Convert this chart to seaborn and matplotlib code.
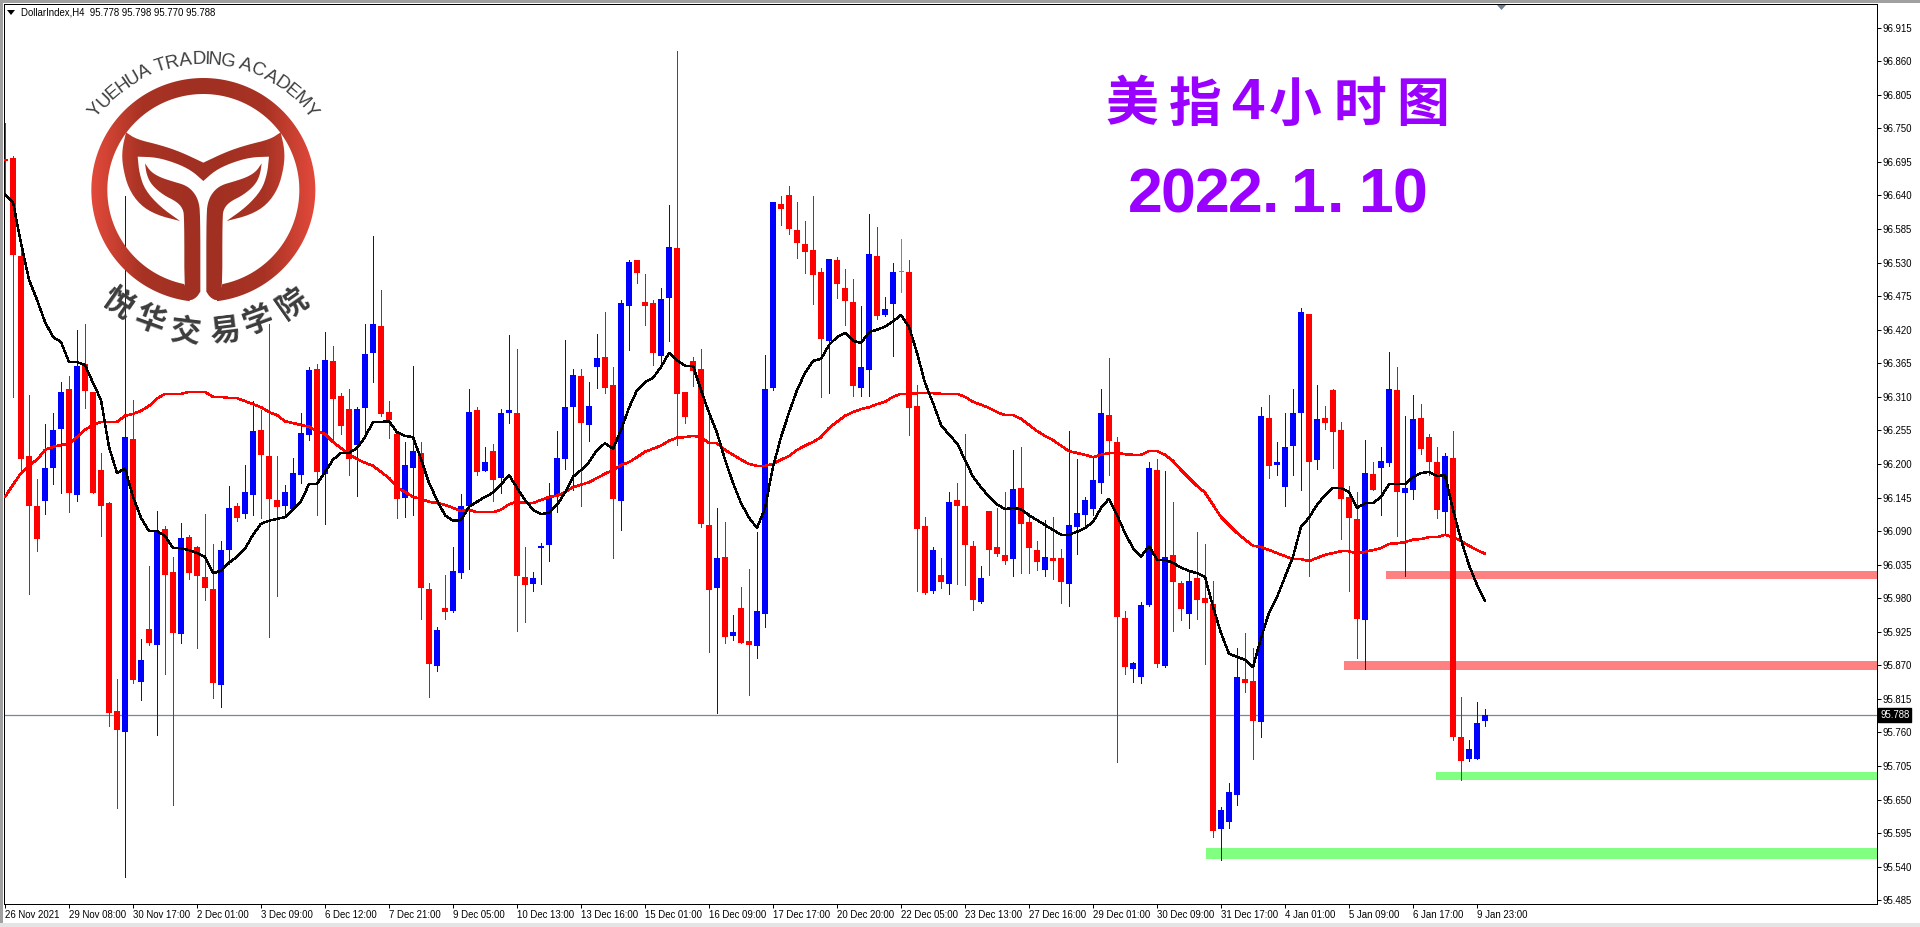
import numpy as np
import pandas as pd
import matplotlib
matplotlib.use("Agg")
import matplotlib.pyplot as plt
import seaborn as sns
from matplotlib.colors import LinearSegmentedColormap
from matplotlib.font_manager import FontProperties
from matplotlib.patches import Polygon, Rectangle
from matplotlib.path import Path
from matplotlib.textpath import TextPath

# DollarIndex H4 bars
highs = [
    96.759, 96.705, 96.551, 96.313, 96.175, 96.266, 96.284, 96.334, 96.344, 96.420,
    96.429, 96.318, 96.218, 96.138, 95.848, 96.639, 96.305, 95.913, 96.033, 96.123,
    96.098, 96.048, 96.103, 96.084, 96.066, 96.118, 96.069, 96.074, 96.164, 96.136,
    96.198, 96.303, 96.289, 96.429, 96.213, 96.166, 96.210, 96.284, 96.359, 96.364,
    96.416, 96.393, 96.316, 96.323, 96.293, 96.429, 96.574, 96.485, 96.303, 96.249,
    96.236, 96.361, 96.236, 96.005, 95.933, 96.018, 96.064, 96.151, 96.323, 96.293,
    96.228, 96.233, 96.290, 96.411, 96.388, 96.064, 96.023, 96.071, 96.169, 96.254,
    96.403, 96.356, 96.356, 96.334, 96.413, 96.449, 96.359, 96.469, 96.534, 96.534,
    96.511, 96.469, 96.488, 96.624, 96.877, 96.318, 96.375, 96.388, 96.289, 96.128,
    96.105, 95.953, 95.998, 96.028, 96.089, 96.379, 96.629, 96.639, 96.656, 96.629,
    96.598, 96.639, 96.521, 96.536, 96.539, 96.520, 96.503, 96.459, 96.610, 96.588,
    96.474, 96.529, 96.569, 96.534, 96.330, 96.113, 96.064, 96.046, 96.154, 96.169,
    96.249, 96.074, 96.033, 96.123, 96.128, 96.154, 96.223, 96.228, 96.120, 96.074,
    96.108, 96.113, 96.061, 96.254, 96.208, 96.146, 96.211, 96.323, 96.374, 96.244,
    95.959, 95.876, 95.974, 96.203, 96.208, 96.188, 96.138, 96.008, 96.026, 96.089,
    96.069, 96.008, 95.638, 95.677, 95.898, 95.923, 95.898, 96.293, 96.313, 96.236,
    96.284, 96.323, 96.456, 96.446, 96.330, 96.295, 96.323, 96.269, 96.164, 96.154,
    96.239, 96.203, 96.228, 96.384, 96.359, 96.279, 96.313, 96.298, 96.249, 96.228,
    96.218, 96.254, 95.818, 95.748, 95.810, 95.798,
]
body_top = [
    96.700, 96.701, 96.541, 96.213, 96.131, 96.193, 96.256, 96.318, 96.323, 96.361,
    96.364, 96.318, 96.190, 96.136, 95.795, 96.244, 96.241, 95.879, 95.930, 96.090,
    96.093, 96.023, 96.079, 96.080, 96.064, 96.015, 95.995, 96.059, 96.128, 96.131,
    96.154, 96.254, 96.256, 96.213, 96.141, 96.154, 96.185, 96.251, 96.354, 96.356,
    96.370, 96.369, 96.311, 96.290, 96.290, 96.380, 96.429, 96.426, 96.285, 96.249,
    96.198, 96.221, 96.218, 95.995, 95.928, 95.964, 96.025, 96.131, 96.285, 96.289,
    96.203, 96.221, 96.284, 96.289, 96.284, 96.015, 96.013, 96.066, 96.148, 96.210,
    96.293, 96.346, 96.344, 96.295, 96.374, 96.375, 96.330, 96.464, 96.531, 96.534,
    96.465, 96.464, 96.470, 96.556, 96.554, 96.318, 96.369, 96.356, 96.100, 96.046,
    96.048, 95.925, 95.964, 95.910, 95.959, 96.323, 96.629, 96.626, 96.641, 96.583,
    96.561, 96.551, 96.515, 96.536, 96.534, 96.488, 96.465, 96.359, 96.544, 96.541,
    96.454, 96.515, 96.516, 96.515, 96.295, 96.098, 96.059, 96.018, 96.138, 96.141,
    96.131, 96.066, 96.013, 96.123, 96.064, 96.051, 96.159, 96.161, 96.105, 96.059,
    96.048, 96.046, 96.046, 96.100, 96.120, 96.141, 96.174, 96.284, 96.280, 96.236,
    95.948, 95.874, 95.969, 96.193, 96.190, 96.048, 96.051, 96.005, 96.008, 96.013,
    95.980, 95.971, 95.633, 95.662, 95.851, 95.848, 95.844, 96.279, 96.275, 96.203,
    96.228, 96.284, 96.449, 96.446, 96.274, 96.275, 96.321, 96.256, 96.146, 96.110,
    96.185, 96.184, 96.205, 96.323, 96.321, 96.161, 96.274, 96.275, 96.244, 96.203,
    96.213, 96.210, 95.753, 95.733, 95.776, 95.788,
]
body_bottom = [
    96.697, 96.543, 96.208, 96.131, 96.077, 96.139, 96.193, 96.257, 96.153, 96.149,
    96.320, 96.153, 96.131, 95.792, 95.764, 95.761, 95.846, 95.843, 95.907, 95.903,
    96.018, 95.923, 95.921, 96.021, 96.016, 95.997, 95.841, 95.838, 96.059, 96.112,
    96.118, 96.149, 96.215, 96.143, 96.130, 96.131, 96.126, 96.182, 96.248, 96.187,
    96.184, 96.307, 96.262, 96.208, 96.231, 96.292, 96.382, 96.282, 96.272, 96.143,
    96.144, 96.193, 95.997, 95.872, 95.869, 95.957, 95.959, 96.021, 96.131, 96.187,
    96.188, 96.174, 96.177, 96.284, 96.016, 96.002, 96.003, 96.062, 96.067, 96.148,
    96.208, 96.293, 96.267, 96.264, 96.359, 96.325, 96.143, 96.139, 96.459, 96.513,
    96.459, 96.382, 96.377, 96.472, 96.315, 96.277, 96.352, 96.102, 95.994, 95.997,
    95.916, 95.918, 95.907, 95.903, 95.902, 95.954, 96.325, 96.618, 96.585, 96.562,
    96.547, 96.510, 96.405, 96.402, 96.495, 96.467, 96.328, 96.325, 96.354, 96.443,
    96.444, 96.462, 96.516, 96.292, 96.093, 95.989, 95.992, 96.007, 96.003, 96.131,
    96.067, 95.977, 95.974, 96.059, 96.053, 96.041, 96.044, 96.102, 96.062, 96.039,
    96.026, 96.041, 96.007, 96.003, 96.097, 96.116, 96.126, 96.169, 96.238, 95.949,
    95.867, 95.864, 95.851, 95.969, 95.872, 95.869, 96.007, 95.962, 95.954, 95.977,
    95.972, 95.599, 95.602, 95.613, 95.658, 95.841, 95.779, 95.777, 96.197, 96.198,
    96.162, 96.230, 96.284, 96.203, 96.207, 96.267, 96.252, 96.143, 96.112, 95.946,
    95.944, 96.157, 96.193, 96.202, 96.154, 96.153, 96.157, 96.225, 96.203, 96.125,
    96.121, 95.753, 95.713, 95.717, 95.717, 95.778,
]
lows = [
    96.646, 96.310, 96.185, 95.987, 96.057, 96.118, 96.167, 96.153, 96.121, 96.139,
    96.292, 96.153, 96.082, 95.771, 95.636, 95.523, 95.841, 95.813, 95.903, 95.756,
    95.856, 95.641, 95.907, 96.012, 95.898, 95.977, 95.817, 95.802, 96.036, 96.107,
    96.112, 96.116, 96.112, 95.916, 95.984, 96.115, 96.125, 96.169, 96.239, 96.116,
    96.102, 96.239, 96.249, 96.182, 96.148, 96.249, 96.334, 96.279, 96.243, 96.112,
    96.113, 96.116, 95.946, 95.818, 95.861, 95.946, 95.957, 96.013, 96.028, 96.182,
    96.188, 96.139, 96.153, 96.267, 95.926, 95.941, 95.992, 96.003, 96.041, 96.121,
    96.192, 96.157, 96.131, 96.238, 96.325, 96.316, 96.046, 96.092, 96.387, 96.497,
    96.428, 96.362, 96.362, 96.402, 96.231, 96.267, 96.328, 96.097, 95.892, 95.792,
    95.907, 95.912, 95.907, 95.821, 95.882, 95.933, 96.321, 96.592, 96.577, 96.538,
    96.513, 96.462, 96.310, 96.316, 96.472, 96.428, 96.311, 96.311, 96.311, 96.438,
    96.443, 96.377, 96.482, 96.248, 95.992, 95.987, 95.989, 95.997, 95.987, 96.003,
    96.002, 95.961, 95.972, 96.018, 96.049, 96.036, 96.016, 96.021, 96.021, 96.026,
    96.016, 96.012, 95.972, 95.967, 96.053, 96.097, 96.116, 96.153, 96.182, 95.712,
    95.856, 95.843, 95.841, 95.967, 95.867, 95.867, 95.926, 95.944, 95.931, 95.946,
    95.872, 95.589, 95.551, 95.604, 95.641, 95.826, 95.717, 95.753, 96.177, 96.182,
    96.131, 96.182, 96.157, 96.016, 96.192, 96.257, 96.193, 96.077, 95.992, 95.882,
    95.864, 96.157, 96.116, 96.197, 96.082, 96.016, 96.143, 96.216, 96.182, 96.112,
    96.084, 95.748, 95.682, 95.713, 95.717, 95.770,
]
# u = close above open, d = close below open, f = flat
direction = list(
    "ddddd uuudu ddddd ududu ddudd dduud uuddd uuuud udddu uuddd "
    "uuddu duuud uduud duuuu uuduu dduud dduud ddddu duddu uuddd "
    "dddud dduud uufdd dudud ddudd duddd udduu uuudd duuud uddud "
    "dduuu ddudu uuudu ddddd uduud uuddd udduuu".replace(" ", "")
)

ma_fast = [
    96.642, 96.629, 96.562, 96.502, 96.469, 96.433, 96.408, 96.400, 96.367, 96.367,
    96.362, 96.333, 96.305, 96.228, 96.185, 96.193, 96.146, 96.112, 96.090, 96.090,
    96.082, 96.062, 96.062, 96.059, 96.054, 96.048, 96.021, 96.025, 96.038, 96.048,
    96.061, 96.084, 96.102, 96.107, 96.110, 96.113, 96.125, 96.139, 96.167, 96.167,
    96.187, 96.207, 96.218, 96.218, 96.226, 96.244, 96.269, 96.269, 96.270, 96.252,
    96.246, 96.244, 96.208, 96.169, 96.141, 96.116, 96.107, 96.108, 96.130, 96.138,
    96.146, 96.153, 96.166, 96.182, 96.161, 96.141, 96.125, 96.118, 96.120, 96.133,
    96.153, 96.179, 96.190, 96.203, 96.223, 96.234, 96.225, 96.256, 96.292, 96.321,
    96.334, 96.341, 96.359, 96.382, 96.370, 96.361, 96.361, 96.321, 96.284, 96.251,
    96.207, 96.169, 96.136, 96.112, 96.095, 96.128, 96.195, 96.244, 96.284, 96.321,
    96.349, 96.369, 96.372, 96.395, 96.408, 96.415, 96.402, 96.398, 96.416, 96.420,
    96.425, 96.434, 96.444, 96.425, 96.382, 96.333, 96.300, 96.264, 96.248, 96.234,
    96.207, 96.179, 96.162, 96.146, 96.134, 96.126, 96.128, 96.126, 96.116, 96.108,
    96.100, 96.092, 96.084, 96.084, 96.089, 96.095, 96.105, 96.128, 96.143, 96.116,
    96.087, 96.062, 96.048, 96.066, 96.043, 96.043, 96.038, 96.030, 96.025, 96.021,
    96.015, 95.966, 95.923, 95.889, 95.884, 95.879, 95.867, 95.915, 95.956, 95.982,
    96.015, 96.048, 96.097, 96.112, 96.133, 96.149, 96.161, 96.161, 96.154, 96.128,
    96.136, 96.136, 96.146, 96.167, 96.167, 96.167, 96.179, 96.185, 96.187, 96.180,
    96.182, 96.125, 96.076, 96.034, 96.002, 95.975,
]
ma_slow = [
    96.146, 96.166, 96.185, 96.198, 96.207, 96.223, 96.228, 96.231, 96.233, 96.244,
    96.256, 96.264, 96.269, 96.269, 96.269, 96.279, 96.282, 96.287, 96.295, 96.307,
    96.315, 96.315, 96.315, 96.318, 96.318, 96.318, 96.310, 96.310, 96.308, 96.308,
    96.303, 96.298, 96.293, 96.285, 96.280, 96.270, 96.267, 96.264, 96.261, 96.254,
    96.249, 96.236, 96.226, 96.216, 96.208, 96.202, 96.197, 96.187, 96.177, 96.162,
    96.154, 96.146, 96.143, 96.138, 96.136, 96.133, 96.128, 96.123, 96.125, 96.121,
    96.121, 96.121, 96.125, 96.134, 96.138, 96.136, 96.136, 96.141, 96.146, 96.148,
    96.154, 96.162, 96.166, 96.170, 96.177, 96.184, 96.190, 96.198, 96.203, 96.211,
    96.220, 96.225, 96.230, 96.238, 96.243, 96.244, 96.246, 96.244, 96.234, 96.234,
    96.223, 96.215, 96.207, 96.200, 96.197, 96.197, 96.200, 96.207, 96.213, 96.223,
    96.230, 96.236, 96.244, 96.259, 96.269, 96.279, 96.285, 96.290, 96.293, 96.298,
    96.302, 96.310, 96.315, 96.315, 96.316, 96.316, 96.316, 96.315, 96.315, 96.315,
    96.310, 96.302, 96.297, 96.292, 96.285, 96.280, 96.280, 96.274, 96.264, 96.254,
    96.246, 96.239, 96.230, 96.221, 96.218, 96.215, 96.211, 96.215, 96.218, 96.218,
    96.216, 96.215, 96.215, 96.221, 96.221, 96.215, 96.205, 96.190, 96.177, 96.164,
    96.153, 96.133, 96.113, 96.100, 96.087, 96.076, 96.066, 96.064, 96.059, 96.054,
    96.049, 96.044, 96.044, 96.041, 96.046, 96.051, 96.054, 96.057, 96.057, 96.053,
    96.056, 96.059, 96.062, 96.069, 96.070, 96.072, 96.076, 96.077, 96.080, 96.080,
    96.084, 96.080, 96.074, 96.066, 96.059, 96.053,
]

price_ticks = [
    96.915, 96.860, 96.805, 96.750, 96.695, 96.640, 96.585, 96.530, 96.475, 96.420,
    96.365, 96.310, 96.255, 96.200, 96.145, 96.090, 96.035, 95.980, 95.925, 95.870,
    95.815, 95.760, 95.705, 95.650, 95.595, 95.540, 95.485,
]
date_labels = [
    "26 Nov 2021", "29 Nov 08:00", "30 Nov 17:00", "2 Dec 01:00", "3 Dec 09:00",
    "6 Dec 12:00", "7 Dec 21:00", "9 Dec 05:00", "10 Dec 13:00", "13 Dec 16:00",
    "15 Dec 01:00", "16 Dec 09:00", "17 Dec 17:00", "20 Dec 20:00", "22 Dec 05:00",
    "23 Dec 13:00", "27 Dec 16:00", "29 Dec 01:00", "30 Dec 09:00", "31 Dec 17:00",
    "4 Jan 01:00", "5 Jan 09:00", "6 Jan 17:00", "9 Jan 23:00",
]
bars_per_label = 8
last_close = 95.788
header = "DollarIndex,H4  95.778 95.798 95.770 95.788"

# horizontal zones: first bar, top price, bottom price
zone_resist = [(172.6, 96.025, 96.012), (167.4, 95.877, 95.862)]
zone_support = [(178.9, 95.695, 95.682), (150.1, 95.571, 95.553)]

sns.set_theme(style="white", rc={"axes.edgecolor": "black", "axes.linewidth": 0.72})
plt.rcParams["font.family"] = ["Liberation Sans", "Noto Sans CJK SC", "DejaVu Sans"]

W, H = 1920, 927
fig = plt.figure(figsize=(W / 100, H / 100), dpi=100, facecolor="white")
ax = fig.add_axes([4 / W, 1 - 904 / H, (1877 - 4) / W, (904 - 4) / H])

# =========================
# Candles
# =========================
bars = pd.DataFrame({
    "bar": np.arange(len(highs)),
    "high": highs,
    "top": body_top,
    "bottom": body_bottom,
    "low": lows,
    "dir": direction,
    "fast": ma_fast,
    "slow": ma_slow,
})
palette = {"u": "#0000ff", "d": "#ff0000", "f": "#00e000"}
bars["colour"] = bars["dir"].map(palette)

ax.axhline(last_close, color="#778899", lw=0.9, zorder=1)
for start, top, bottom in zone_resist:
    ax.fill_between([start, 240], bottom, top, color="#ff8080", lw=0, zorder=1)
for start, top, bottom in zone_support:
    ax.fill_between([start, 240], bottom, top, color="#80ff80", lw=0, zorder=1)

ax.vlines(bars["bar"], bars["low"], bars["high"], colors=bars["colour"], lw=0.72,
          antialiased=False, zorder=2)
ax.bar(bars["bar"], bars["top"] - bars["bottom"], bottom=bars["bottom"], width=0.66,
       color=bars["colour"], lw=0, antialiased=False, zorder=3)
flat = bars[bars["dir"] == "f"]
ax.hlines(flat["top"], flat["bar"] - 0.3, flat["bar"] + 0.3, colors=flat["colour"],
          lw=0.72, antialiased=False, zorder=3)

# moving averages
sns.lineplot(data=bars, x="bar", y="slow", color="#ff0000", linewidth=1.1,
             estimator=None, errorbar=None, ax=ax, zorder=4, antialiased=False)
sns.lineplot(data=bars, x="bar", y="fast", color="black", linewidth=1.0,
             estimator=None, errorbar=None, ax=ax, zorder=5, antialiased=False)

ax.set_xlim(-0.125, 234)
ax.set_ylim(95.4789, 96.9538)
ax.set_xlabel("")
ax.set_ylabel("")
ax.yaxis.tick_right()
ax.set_yticks(price_ticks)
ax.set_yticklabels([f"{p:.3f}" for p in price_ticks], fontsize=6.9, color="black")
ax.set_xticks(np.arange(len(date_labels)) * bars_per_label)
ax.set_xticklabels(date_labels, fontsize=6.9, ha="left", color="black")
ax.tick_params(axis="both", length=2.6, width=0.72, pad=1.6, color="black",
               bottom=True, right=True, left=False)
ax.text(1.0017, last_close, f"{last_close:.3f}", transform=ax.get_yaxis_transform(),
        color="white", fontsize=6.9, va="center", ha="left", zorder=9, clip_on=False,
        bbox=dict(facecolor="black", edgecolor="black", pad=1.4))

# =========================
# Overlay in pixels: window border, header, title, logo
# =========================
ov = fig.add_axes([0, 0, 1, 1], facecolor="none")
ov.set_axis_off()
ov.add_patch(Rectangle((0, 0), W, 3, color="#a0a0a0", lw=0))
ov.add_patch(Rectangle((0, 0), 3, 923, color="#a0a0a0", lw=0))
ov.add_patch(Rectangle((0, 923), W, 4, color="#e4e4e4", lw=0))
ov.add_patch(Polygon([(7, 10), (15, 10), (11, 15)], color="black", lw=0))
ov.add_patch(Polygon([(1497, 5), (1506, 5), (1501.5, 10)], color="#708090", lw=0))
ov.text(21, 12.5, header, fontsize=6.9, color="black", va="center", ha="left")

# title, one glyph at a time because the picture spaces them out
purple = "#9900ff"
cn_font = FontProperties(family="Noto Sans CJK SC", weight="bold")
for ch, cx in zip("美指小时图", [1132, 1195, 1295, 1360, 1423]):
    ov.text(cx, 105, ch, fontproperties=cn_font, fontsize=38, color=purple,
            ha="center", va="center")
ov.text(1247, 104, "4", fontsize=42, color=purple, weight="bold", ha="center", va="center")
for ch, cx in zip("2022.1.10", [1145, 1178, 1212, 1245, 1270, 1308, 1335, 1375, 1410]):
    ov.text(cx, 212, ch, fontsize=45, color=purple, weight="bold", ha="center", va="baseline")

# logo, coordinates measured in a 3x crop whose origin is (0, 100)
def crop_pts(pts):
    return np.asarray(pts, dtype=float) / 3 + [0, 100]

def smooth(pts, rounds=2):
    pts = np.asarray(pts, dtype=float)
    for _ in range(rounds):
        nxt = np.roll(pts, -1, axis=0)
        pts = np.column_stack([0.75 * pts + 0.25 * nxt, 0.25 * pts + 0.75 * nxt]).reshape(-1, 2)
    return pts

def mirror(pts, axis=610):
    pts = np.asarray(pts, dtype=float).copy()
    pts[:, 0] = 2 * axis - pts[:, 0]
    return pts

logo_map = LinearSegmentedColormap.from_list(
    "logo", [(0, "#a03022"), (0.55, "#a83324"), (1, "#e34a3b")])
ramp = np.abs(np.linspace(-1, 1, 256)).reshape(1, -1)

def fill_logo(poly):
    im = ov.imshow(ramp, cmap=logo_map, vmin=0, vmax=1, extent=(91, 316, 302, 78),
                   aspect="auto", zorder=6)
    im.set_clip_path(Path(np.vstack([poly, poly[:1]]), closed=True), transform=ov.transData)

ring_a = np.radians(np.linspace(96.85, 443.15, 240))
ring_b = np.radians(np.linspace(438.6, 101.4, 240))
ring = np.vstack([
    np.column_stack([610 + 336 * np.cos(ring_a), 270 + 336 * np.sin(ring_a)]),
    np.column_stack([610 + 288 * np.cos(ring_b), 270 + 288 * np.sin(ring_b)]),
])
fill_logo(crop_pts(ring))

horn_half = [
    (378, 97), (378, 97), (366, 150), (368, 200), (385, 265), (420, 315), (470, 345),
    (540, 363), (540, 363), (540, 363), (480, 320), (435, 270), (418, 220), (413, 170),
    (413, 170), (470, 172), (530, 190), (575, 212), (610, 243), (610, 243),
]
horn_top = [(610, 188), (610, 188), (540, 155), (480, 135), (410, 118)]
horn = np.vstack([
    horn_half,
    mirror(horn_half)[::-1],
    mirror(horn_top[::-1]),
    horn_top,
])
fill_logo(crop_pts(smooth(horn, 2)))

stem = [
    (435, 190), (435, 190), (452, 215), (480, 232), (520, 245), (555, 255), (578, 272),
    (595, 300), (601, 340), (601, 575), (601, 575), (590, 592), (570, 603), (553, 590),
    (553, 350), (548, 325), (530, 305), (490, 285), (455, 255), (440, 225),
]
fill_logo(crop_pts(smooth(stem, 2)))
fill_logo(crop_pts(smooth(mirror(stem), 2)))

# curved school name above and below the ring
top_name = "YUEHUA TRADING ACADEMY"
top_size = 13.5
top_prop = FontProperties(family="Liberation Sans")
adv = np.array([TextPath((0, 0), c if c != " " else "i", size=top_size, prop=top_prop).get_extents().width + 1.2
                for c in top_name])
total = 250
adv = adv * total / adv.sum()
radius = 133
pos = np.cumsum(adv) - adv / 2 - total / 2
for ch, s in zip(top_name, pos):
    ang = s / radius
    ov.text(203.3 + radius * np.sin(ang), 197 - radius * np.cos(ang), ch, fontsize=top_size,
            color="#3f3f3f", rotation=-np.degrees(ang), rotation_mode="anchor",
            ha="center", va="baseline", zorder=7)

for ch, cx, cy, rot in zip("悦华交易学院",
                           [118, 150, 185, 225, 258, 292],
                           [303, 320, 332, 332, 320, 303],
                           [-35, -20, -7, 7, 20, 35]):
    ov.text(cx, cy, ch, fontproperties=cn_font, fontsize=22, color="#3c3c3c",
            rotation=rot, rotation_mode="anchor", ha="center", va="center", zorder=7)

ov.set_xlim(0, W)
ov.set_ylim(H, 0)

plt.savefig("out.png", dpi=100, facecolor="white")
